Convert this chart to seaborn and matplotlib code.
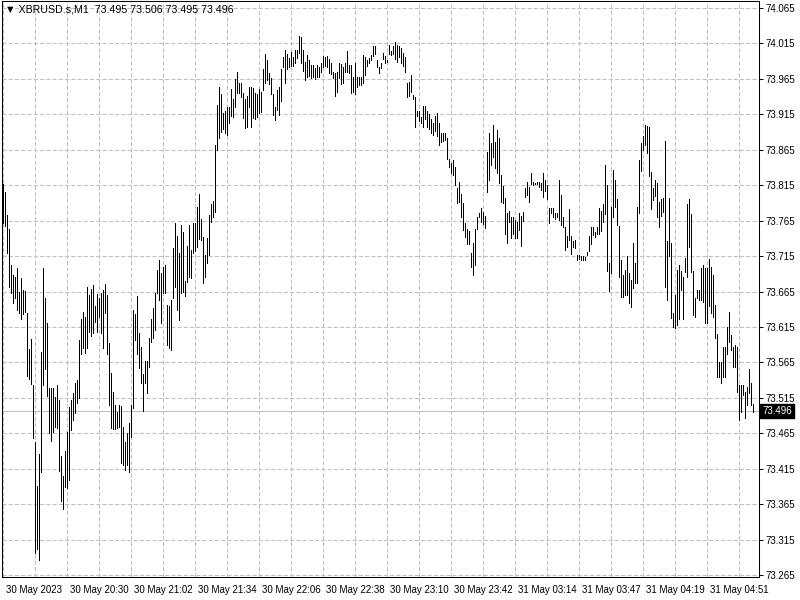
import numpy as np
import pandas as pd
import seaborn as sns
import matplotlib
matplotlib.use("Agg")
import matplotlib.pyplot as plt
from matplotlib.transforms import ScaledTranslation, blended_transform_factory

# XBRUSD.s M1 bars (high / low)
highs = [
    73.817, 73.805, 73.773, 73.753, 73.702, 73.688, 73.686, 73.698, 73.664, 73.684,
    73.667, 73.666, 73.635, 73.584, 73.598, 73.533, 73.453, 73.391, 73.436, 73.580,
    73.698, 73.656, 73.621, 73.529, 73.529, 73.529, 73.516, 73.533, 73.512, 73.433,
    73.405, 73.440, 73.467, 73.502, 73.512, 73.522, 73.536, 73.540, 73.597, 73.626,
    73.636, 73.629, 73.671, 73.660, 73.669, 73.674, 73.645, 73.662, 73.656, 73.663,
    73.667, 73.676, 73.660, 73.592, 73.550, 73.523, 73.505, 73.495, 73.505, 73.503,
    73.474, 73.453, 73.465, 73.479, 73.505, 73.639, 73.633, 73.659, 73.606, 73.587,
    73.549, 73.567, 73.567, 73.599, 73.626, 73.642, 73.663, 73.695, 73.709, 73.691,
    73.700, 73.702, 73.646, 73.645, 73.653, 73.726, 73.762, 73.743, 73.719, 73.759,
    73.749, 73.680, 73.729, 73.759, 73.724, 73.762, 73.762, 73.784, 73.803, 73.767,
    73.742, 73.717, 73.741, 73.773, 73.789, 73.793, 73.872, 73.928, 73.954, 73.944,
    73.917, 73.920, 73.925, 73.925, 73.951, 73.937, 73.965, 73.975, 73.959, 73.959,
    73.945, 73.937, 73.941, 73.954, 73.954, 73.952, 73.945, 73.944, 73.951, 73.947,
    73.979, 74.000, 73.992, 73.973, 73.966, 73.944, 73.925, 73.949, 73.954, 73.979,
    73.996, 74.006, 74.000, 73.995, 74.003, 73.996, 74.006, 74.006, 74.026, 74.024,
    74.006, 73.989, 73.999, 73.992, 73.985, 73.985, 73.980, 73.985, 73.982, 73.987,
    73.997, 73.996, 73.997, 73.993, 73.987, 73.975, 73.973, 73.975, 73.987, 73.986,
    73.982, 73.987, 74.004, 73.985, 73.985, 73.968, 73.987, 73.968, 73.968, 73.968,
    73.999, 73.996, 73.992, 73.995, 73.999, 74.011, 74.011, 73.992, 73.982, 73.987,
    74.002, 73.997, 73.992, 74.013, 74.004, 74.011, 74.017, 74.013, 74.011, 74.009,
    74.002, 73.996, 73.959, 73.961, 73.971, 73.942, 73.939, 73.920, 73.920, 73.911,
    73.927, 73.927, 73.920, 73.915, 73.908, 73.903, 73.913, 73.917, 73.903, 73.889,
    73.889, 73.889, 73.882, 73.852, 73.846, 73.851, 73.841, 73.811, 73.820, 73.803,
    73.790, 73.762, 73.753, 73.750, 73.719, 73.733, 73.753, 73.770, 73.776, 73.783,
    73.777, 73.772, 73.862, 73.889, 73.875, 73.900, 73.876, 73.893, 73.882, 73.829,
    73.814, 73.797, 73.776, 73.779, 73.770, 73.770, 73.766, 73.763, 73.776, 73.772,
    73.777, 73.811, 73.820, 73.812, 73.832, 73.820, 73.818, 73.820, 73.820, 73.818,
    73.832, 73.822, 73.815, 73.783, 73.783, 73.783, 73.776, 73.776, 73.822, 73.801,
    73.770, 73.756, 73.743, 73.781, 73.743, 73.736, 73.738, 73.717, 73.717, 73.715,
    73.715, 73.714, 73.721, 73.743, 73.756, 73.756, 73.749, 73.756, 73.783, 73.779,
    73.789, 73.844, 73.815, 73.705, 73.784, 73.836, 73.822, 73.796, 73.757, 73.709,
    73.688, 73.695, 73.715, 73.691, 73.681, 73.733, 73.705, 73.784, 73.851, 73.875,
    73.884, 73.900, 73.899, 73.897, 73.834, 73.811, 73.822, 73.818, 73.791, 73.796,
    73.797, 73.877, 73.736, 73.797, 73.733, 73.635, 73.660, 73.695, 73.702, 73.694,
    73.686, 73.712, 73.789, 73.796, 73.774, 73.694, 73.656, 73.667, 73.667, 73.698,
    73.702, 73.698, 73.698, 73.711, 73.700, 73.688, 73.646, 73.605, 73.566, 73.566,
    73.587, 73.587, 73.615, 73.636, 73.604, 73.587, 73.590, 73.587, 73.533, 73.533,
    73.533, 73.523, 73.530, 73.556, 73.536, 73.506,
]
lows = [
    73.762, 73.757, 73.719, 73.671, 73.663, 73.649, 73.656, 73.639, 73.635, 73.626,
    73.633, 73.636, 73.546, 73.542, 73.535, 73.458, 73.296, 73.302, 73.286, 73.410,
    73.533, 73.556, 73.518, 73.465, 73.454, 73.467, 73.474, 73.472, 73.412, 73.369,
    73.358, 73.389, 73.388, 73.399, 73.470, 73.484, 73.494, 73.508, 73.515, 73.577,
    73.585, 73.578, 73.585, 73.608, 73.602, 73.606, 73.622, 73.608, 73.629, 73.606,
    73.585, 73.635, 73.577, 73.505, 73.472, 73.471, 73.471, 73.472, 73.474, 73.423,
    73.420, 73.413, 73.420, 73.410, 73.460, 73.501, 73.597, 73.577, 73.557, 73.536,
    73.496, 73.536, 73.522, 73.559, 73.594, 73.599, 73.611, 73.663, 73.653, 73.621,
    73.663, 73.663, 73.590, 73.585, 73.582, 73.656, 73.671, 73.639, 73.625, 73.663,
    73.664, 73.659, 73.678, 73.686, 73.684, 73.719, 73.722, 73.728, 73.739, 73.738,
    73.677, 73.686, 73.705, 73.717, 73.763, 73.770, 73.777, 73.865, 73.882, 73.890,
    73.894, 73.889, 73.886, 73.903, 73.913, 73.911, 73.925, 73.945, 73.945, 73.939,
    73.910, 73.896, 73.897, 73.925, 73.897, 73.910, 73.908, 73.911, 73.917, 73.918,
    73.949, 73.959, 73.963, 73.958, 73.944, 73.914, 73.907, 73.921, 73.914, 73.934,
    73.982, 73.959, 73.979, 73.982, 73.983, 73.983, 73.987, 73.995, 74.002, 73.987,
    73.976, 73.963, 73.968, 73.969, 73.966, 73.968, 73.965, 73.968, 73.968, 73.975,
    73.982, 73.983, 73.982, 73.973, 73.972, 73.966, 73.941, 73.947, 73.966, 73.958,
    73.959, 73.975, 73.975, 73.973, 73.945, 73.947, 73.944, 73.954, 73.956, 73.956,
    73.959, 73.971, 73.983, 73.987, 73.992, 73.997, 74.000, 73.982, 73.973, 73.980,
    73.993, 73.987, 73.989, 74.000, 73.999, 74.000, 73.993, 73.989, 73.996, 73.987,
    73.983, 73.975, 73.939, 73.941, 73.947, 73.937, 73.897, 73.913, 73.906, 73.903,
    73.897, 73.908, 73.897, 73.894, 73.889, 73.886, 73.891, 73.884, 73.872, 73.876,
    73.877, 73.879, 73.852, 73.841, 73.832, 73.829, 73.815, 73.790, 73.791, 73.770,
    73.752, 73.742, 73.732, 73.732, 73.700, 73.688, 73.702, 73.753, 73.770, 73.763,
    73.760, 73.755, 73.805, 73.822, 73.844, 73.855, 73.839, 73.832, 73.818, 73.791,
    73.790, 73.746, 73.733, 73.763, 73.741, 73.746, 73.741, 73.741, 73.752, 73.729,
    73.765, 73.798, 73.801, 73.791, 73.817, 73.815, 73.817, 73.817, 73.812, 73.808,
    73.798, 73.807, 73.796, 73.762, 73.776, 73.770, 73.767, 73.770, 73.766, 73.759,
    73.756, 73.724, 73.728, 73.738, 73.718, 73.728, 73.726, 73.709, 73.711, 73.709,
    73.709, 73.709, 73.717, 73.722, 73.732, 73.745, 73.742, 73.746, 73.746, 73.750,
    73.763, 73.774, 73.694, 73.666, 73.691, 73.770, 73.784, 73.759, 73.686, 73.657,
    73.657, 73.660, 73.660, 73.649, 73.643, 73.670, 73.677, 73.677, 73.776, 73.835,
    73.865, 73.872, 73.860, 73.828, 73.781, 73.794, 73.800, 73.770, 73.756, 73.772,
    73.777, 73.671, 73.653, 73.715, 73.628, 73.615, 73.614, 73.618, 73.626, 73.667,
    73.626, 73.693, 73.686, 73.728, 73.693, 73.632, 73.629, 73.656, 73.653, 73.653,
    73.650, 73.621, 73.621, 73.645, 73.635, 73.629, 73.599, 73.544, 73.544, 73.536,
    73.544, 73.544, 73.577, 73.594, 73.582, 73.559, 73.559, 73.523, 73.484, 73.495,
    73.519, 73.487, 73.505, 73.522, 73.505, 73.495,
]

time_labels = ["30 May 2023", "30 May 20:30", "30 May 21:02", "30 May 21:34",
               "30 May 22:06", "30 May 22:38", "30 May 23:10", "30 May 23:42",
               "31 May 03:14", "31 May 03:47", "31 May 04:19", "31 May 04:51"]
price_ticks = [73.265 + 0.05 * k for k in range(17)]
last_price = 73.496
header = "\u25BC XBRUSD.s,M1  73.495 73.506 73.495 73.496"

n = len(highs)
bar = np.arange(n)

# long format: one low point and one high point per bar, drawn as a unit
df = pd.DataFrame({
    "bar": np.concatenate([bar, bar]),
    "price": np.concatenate([lows, highs]),
})

sns.set_style("white")
plt.rcParams["font.family"] = ["Liberation Sans", "DejaVu Sans"]
plt.rcParams["axes.linewidth"] = 0.75

fig = plt.figure(figsize=(8, 6), dpi=100)
ax = fig.add_axes([2 / 800, 23 / 600, 757 / 800, 576 / 600])

sns.lineplot(data=df, x="bar", y="price", units="bar", estimator=None,
             sort=False, color="black", linewidth=0.55, antialiased=False,
             ax=ax)

ax.set_xlim(-0.5, 378)
ax.set_ylim(73.2622, 74.0749)
ax.set_xlabel("")
ax.set_ylabel("")

# grid
ax.set_axisbelow(True)
ax.set_yticks(price_ticks)
ax.set_yticklabels([f"{p:.3f}" for p in price_ticks])
ax.set_xticks(np.arange(0, 369, 16), minor=True)
ax.set_xticks(np.arange(0, 32 * len(time_labels), 32))
ax.set_xticklabels(time_labels)
ax.grid(True, which="both", color="#c0c0c0", linestyle=(0, (4, 2)),
        linewidth=0.75)

ax.axhline(last_price, color="#c0c0c0", linewidth=0.75, zorder=1)

# axes styling
for s in ax.spines.values():
    s.set_color("black")
ax.yaxis.tick_right()
ax.tick_params(axis="y", direction="out", length=3, width=0.75, pad=2,
               labelsize=7, colors="black")
ax.tick_params(axis="x", which="major", direction="out", length=4,
               width=0.75, pad=2, labelsize=7, colors="black")
ax.tick_params(axis="x", which="minor", length=0)
offset = ScaledTranslation(3 / 100, 0, fig.dpi_scale_trans)
for lab in ax.get_xticklabels():
    lab.set_ha("left")
    lab.set_transform(lab.get_transform() + offset)

# current price tag
trans = blended_transform_factory(ax.transAxes, ax.transData)
ax.text(1.004, last_price, f"{last_price:.3f}", transform=trans,
        ha="left", va="center", fontsize=7, color="white",
        bbox=dict(boxstyle="square,pad=0.2", facecolor="black",
                  edgecolor="black"), zorder=5, clip_on=False)

fig.text(5 / 800, 1 - 10 / 600, header, fontsize=7.7, color="black",
         ha="left", va="center")

fig.savefig("out.png", dpi=100, facecolor="white")
